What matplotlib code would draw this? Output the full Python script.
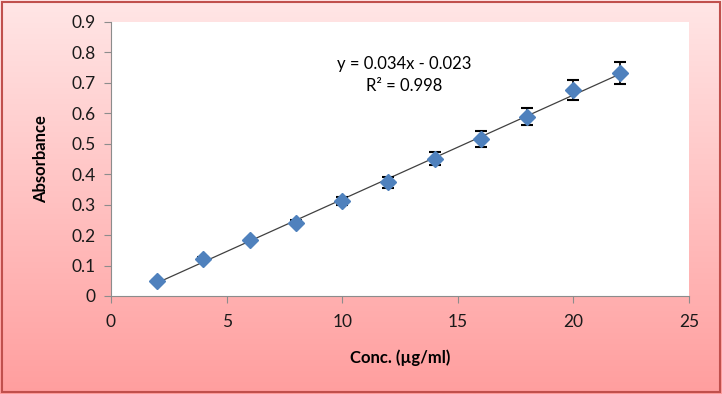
import numpy as np
import matplotlib.pyplot as plt
from matplotlib.patches import Rectangle

conc = [2, 4, 6, 8, 10, 12, 14, 16, 18, 20, 22]
absorbance = [0.05, 0.122, 0.183, 0.241, 0.311, 0.374, 0.451, 0.516, 0.589, 0.676, 0.733]
err = [0.004, 0.005, 0.005, 0.008, 0.013, 0.018, 0.022, 0.025, 0.028, 0.032, 0.036]

plt.rcParams['font.family'] = ['Lato', 'DejaVu Sans']

fig = plt.figure(figsize=(7.22, 3.94), dpi=100)

# pink gradient background
bg = fig.add_axes([0, 0, 1, 1], zorder=-10)
grad = np.linspace(0, 1, 256).reshape(-1, 1)
top = np.array([255, 230, 230]) / 255
bot = np.array([255, 158, 158]) / 255
img = top + (bot - top) * grad[:, :, None]
bg.imshow(img, aspect='auto', extent=[0, 1, 0, 1], origin='upper')
bg.add_patch(Rectangle((0.003, 0.005), 0.994, 0.99, fill=False,
                       edgecolor='#C0504D', linewidth=1.5))
bg.set_xlim(0, 1)
bg.set_ylim(0, 1)
bg.axis('off')

ax = fig.add_axes([111 / 722, 1 - 296 / 394, 578 / 722, 274 / 394])
ax.set_facecolor('white')

fit = np.polyfit(conc, absorbance, 1)
xs = np.array([conc[0], conc[-1]])
ax.plot(xs, np.polyval(fit, xs), color='#404040', linewidth=0.9, zorder=2)

ax.errorbar(conc, absorbance, yerr=err, fmt='none', ecolor='black',
            elinewidth=1.2, capsize=4, capthick=1.5, zorder=3)
ax.plot(conc, absorbance, 'D', color='#4F81BD', markersize=8,
        markeredgecolor='#4F81BD', zorder=4)

ax.set_xlim(0, 25)
ax.set_ylim(0, 0.9)
ax.set_xticks(range(0, 26, 5))
ax.set_yticks(np.arange(0, 0.91, 0.1))
ax.set_yticklabels(['0', '0.1', '0.2', '0.3', '0.4', '0.5', '0.6', '0.7', '0.8', '0.9'])
for s in ['top', 'right']:
    ax.spines[s].set_visible(False)
for s in ['left', 'bottom']:
    ax.spines[s].set_color('#8C8C8C')
ax.tick_params(axis='both', colors='#8C8C8C', labelcolor='#1a1a1a', labelsize=12.5,
               length=5, direction='out')
ax.tick_params(axis='x', pad=8)
ax.tick_params(axis='y', pad=6)

ax.set_xlabel('Conc. (µg/ml)', fontsize=12, fontweight='bold', labelpad=14)
ax.set_ylabel('Absorbance', fontsize=12, fontweight='bold', labelpad=16)

ax.text(0.508, 0.848, 'y = 0.034x - 0.023', transform=ax.transAxes,
        ha='center', va='center', fontsize=12)
ax.text(0.508, 0.768, 'R² = 0.998', transform=ax.transAxes,
        ha='center', va='center', fontsize=12)

fig.savefig('out.png', dpi=100)
